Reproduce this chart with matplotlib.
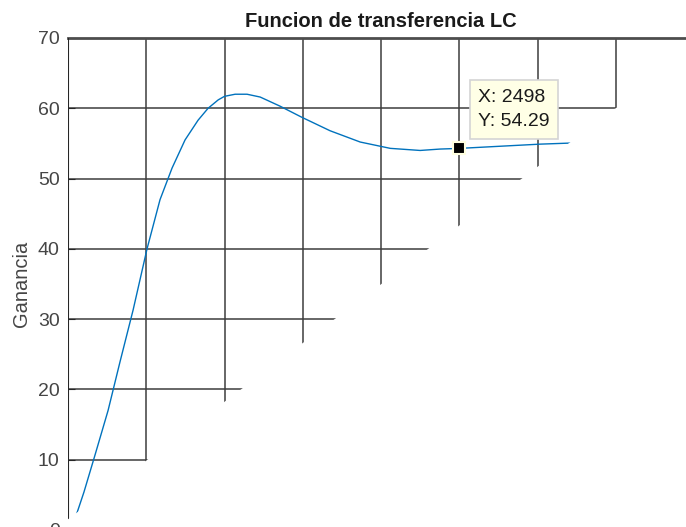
import matplotlib
matplotlib.use("Agg")
import matplotlib.pyplot as plt
from matplotlib.patches import Polygon

plt.rcParams['font.family'] = ['Liberation Sans', 'DejaVu Sans']

# frequency response
freq = [40, 57, 102, 173, 256, 332, 416, 505, 588, 665, 748, 831, 895, 960,
        1000, 1068, 1144, 1228, 1355, 1496, 1675, 1867, 2059, 2250, 2378,
        2498, 2762, 3018, 3210, 3400]
gain = [1.2, 2.4, 5.4, 10.7, 17.0, 23.9, 31.3, 40.0, 47.0, 51.5, 55.5, 58.3,
        60.0, 61.2, 61.7, 62.0, 62.0, 61.6, 60.3, 58.7, 56.8, 55.2, 54.3,
        54.0, 54.2, 54.29, 54.6, 54.9, 55.05, 55.2]

tip_x = 2498
tip_y = 54.29

x_ticks = [0, 500, 1000, 1500, 2000, 2500, 3000, 3500, 4000]
y_ticks = [0, 10, 20, 30, 40, 50, 60, 70]

grid_col = '#3d3d3d'
text_col = '#454545'

fig = plt.figure(figsize=(6.86, 5.27), dpi=100)
ax = fig.add_axes([68/686, -3/527, 626/686, 492/527])
ax.set_xlim(0, 4000)
ax.set_ylim(0, 70)

# the screenshot has the lower right part blanked out along a diagonal
keep = Polygon([(0, 0.0218), (1.0, 0.977), (1.0, 1.05), (0, 1.05)],
               closed=True, transform=ax.transAxes, facecolor='none', edgecolor='none')
ax.add_patch(keep)

for xv in x_ticks[1:]:
    l = ax.axvline(xv, color=grid_col, lw=1.1, zorder=1)
    l.set_clip_path(keep)
for yv in y_ticks[1:]:
    l = ax.axhline(yv, color=grid_col, lw=1.1, zorder=1)
    l.set_clip_path(keep)

ln, = ax.plot(freq, gain, color='#0072BD', lw=1.0, zorder=3)
ln.set_clip_path(keep)

left = ax.axvline(0, color='#262626', lw=1.5, zorder=4)
left.set_clip_path(keep)
ax.spines['left'].set_visible(False)
ax.spines['bottom'].set_visible(False)
ax.spines['right'].set_visible(False)
ax.spines['top'].set_color('#4d4d4d')
ax.spines['top'].set_linewidth(2.0)

ax.set_xticks(x_ticks)
ax.set_yticks(y_ticks)
ax.tick_params(axis='x', bottom=False, labelbottom=False, top=False)
ax.tick_params(axis='y', direction='in', length=5, color='#262626',
               labelsize=14, labelcolor=text_col, pad=6)

ax.set_ylabel('Ganancia', fontsize=14.5, color=text_col, labelpad=5)
ax.set_title('Funcion de transferencia LC', fontsize=14.5, fontweight='bold',
             color='#1a1a1a', pad=8)

ax.plot([tip_x], [tip_y], marker='s', color='black', markersize=9,
        markeredgecolor='#FFFFE0', markeredgewidth=1.5, zorder=6, clip_on=False)
ax.annotate('X: %d\nY: %.2f' % (tip_x, tip_y), xy=(tip_x, tip_y),
            xytext=(19, 18), textcoords='offset pixels',
            ha='left', va='bottom', fontsize=14, color='#1a1a1a', linespacing=1.6,
            bbox=dict(boxstyle='square,pad=0.42', facecolor='#FFFFE6',
                      edgecolor='#D4D4D4', linewidth=1.2),
            zorder=7, annotation_clip=False)

fig.savefig('out.png', dpi=100)
